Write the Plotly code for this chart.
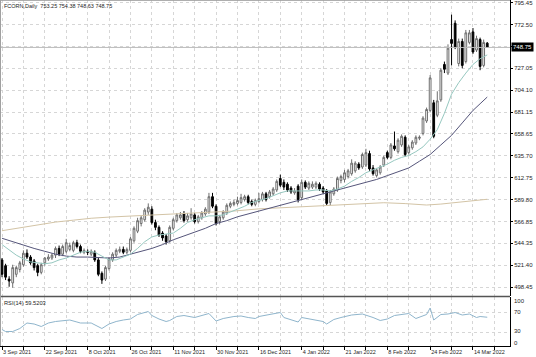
import plotly.graph_objects as go

# ---------------- data ----------------
bars = list(range(137))

open_ = [527, 521, 507, 503, 512, 517, 522, 534, 530, 526, 521, 514, 524, 528, 529, 532, 539, 533, 536, 538,
         537, 545, 541, 535, 536, 533, 535, 527, 513, 507, 518, 527, 532, 536, 538, 535, 537, 547, 557, 565,
         569, 577, 580, 566, 561, 555, 552, 547, 560, 568, 571, 575, 569, 571, 574, 567, 571, 575, 577, 593,
         583, 567, 571, 576, 583, 585, 586, 587, 590, 593, 588, 585, 588, 590, 596, 593, 596, 600, 612, 608,
         606, 602, 597, 604, 592, 608, 602, 603, 603, 606, 602, 599, 587, 596, 600, 610, 611, 614, 617, 620,
         627, 624, 626, 638, 623, 615, 618, 626, 639, 634, 646, 640, 647, 655, 639, 644, 649, 654, 659, 672,
         683, 691, 678, 694, 731, 722, 757, 774, 732, 755, 734, 754, 765, 746, 757, 730, 753.25]
high = [529, 523, 510, 522, 521, 526, 537, 538, 532, 528, 523, 524, 530, 533, 534, 541, 542, 543, 549, 545,
        547, 548, 543, 539, 538, 538, 537, 529, 515, 521, 530, 535, 539, 541, 541, 540, 551, 562, 571, 573,
        581, 586, 583, 569, 563, 557, 554, 563, 571, 576, 577, 578, 576, 581, 576, 574, 578, 582, 597, 597,
        585, 574, 579, 586, 588, 590, 593, 596, 595, 595, 590, 591, 597, 598, 598, 600, 603, 611, 616, 611,
        608, 604, 602, 606, 611, 610, 609, 609, 609, 608, 604, 601, 600, 603, 614, 616, 621, 622, 632, 630,
        629, 639, 643, 641, 626, 623, 626, 636, 641, 649, 661, 654, 658, 657, 647, 652, 657, 657, 677, 686,
        720, 694, 703, 727, 734, 752, 783, 777, 758, 758, 767, 767, 769, 761, 759, 757, 754.38]
low = [509, 506, 499, 498, 509, 514, 520, 528, 522, 516, 510, 512, 521, 526, 527, 529, 531, 531, 534, 536,
       535, 539, 534, 533, 532, 531, 525, 510, 502, 505, 516, 525, 530, 534, 533, 533, 535, 545, 555, 562,
       567, 574, 564, 558, 551, 547, 543, 545, 558, 566, 569, 566, 567, 569, 565, 565, 569, 573, 575, 581,
       563, 564, 569, 574, 581, 583, 584, 585, 588, 585, 583, 583, 586, 588, 588, 591, 594, 598, 603, 600,
       598, 596, 595, 587, 590, 601, 600, 601, 601, 599, 596, 584, 584, 594, 598, 607, 608, 612, 615, 618,
       621, 622, 624, 620, 615, 613, 616, 624, 632, 632, 641, 638, 645, 635, 637, 642, 647, 652, 657, 670,
       681, 654, 676, 692, 722, 720, 730, 747, 729, 727, 732, 752, 742, 744, 725, 728, 748.63]
close = [512, 509, 505, 519, 519, 524, 534, 530, 524, 519, 514, 522, 529, 530, 532, 539, 533, 541, 545, 542,
         545, 541, 536, 537, 535, 536, 527, 512, 506, 519, 528, 533, 537, 538, 535, 538, 549, 560, 568, 571,
         579, 582, 566, 561, 553, 550, 546, 561, 569, 574, 574, 568, 573, 575, 567, 572, 576, 580, 593, 583,
         565, 572, 577, 584, 586, 587, 589, 592, 593, 587, 585, 589, 591, 596, 590, 598, 601, 609, 605, 603,
         600, 598, 599, 590, 608, 603, 607, 606, 607, 601, 598, 586, 598, 601, 612, 614, 618, 620, 628, 628,
         623, 637, 639, 622, 617, 621, 624, 634, 634, 647, 643, 652, 656, 637, 645, 650, 655, 655, 675, 684,
         717, 656, 693, 725, 726, 748, 753, 749, 755, 730, 764, 764, 744, 758, 729, 754, 748.75]

date_labels = ["3 Sep 2021", "22 Sep 2021", "8 Oct 2021", "26 Oct 2021", "11 Nov 2021", "30 Nov 2021",
               "16 Dec 2021", "4 Jan 2022", "21 Jan 2022", "8 Feb 2022", "24 Feb 2022", "14 Mar 2022"]
date_label_bars = [0, 12, 24, 36, 48, 60, 72, 84, 96, 108, 120, 132]

price_ticks = [795.45, 772.50, 749.55, 727.05, 704.10, 681.15, 658.65, 635.70,
               612.75, 589.80, 566.85, 544.35, 521.40, 498.45]
price_tick_text = ["795.45", "772.50", "", "727.05", "704.10", "681.15", "658.65", "635.70",
                   "612.75", "589.80", "566.85", "544.35", "521.40", "498.45"]

fast_ma_bars = [0, 2, 4, 6, 8, 10, 12, 14, 16, 18, 20, 22, 24, 26, 28, 30, 32, 34, 36, 38, 40, 42, 44, 46, 48,
                50, 52, 54, 56, 58, 60, 62, 64, 66, 68, 70, 72, 74, 76, 78, 80, 82, 84, 86, 88, 90, 92, 94, 96,
                98, 100, 102, 104, 106, 108, 110, 112, 114, 116, 118, 120, 122, 124, 126, 128, 130, 132, 134, 136]
fast_ma = [543, 537, 532, 528, 525, 524, 523, 524, 527, 529, 532, 535, 536, 535, 531, 527, 527, 530, 533, 539,
           546, 551, 553, 554, 555, 560, 566, 569, 571, 573, 573, 574, 577, 580, 583, 587, 589, 591, 594, 597,
           599, 599, 599, 599, 600, 600, 599, 601, 604, 609, 613, 618, 621, 624, 627, 631, 634, 636, 640, 645,
           653, 663, 680, 700, 712, 722, 731, 737, 741]

mid_ma_bars = [0, 3, 6, 9, 12, 15, 18, 21, 24, 27, 30, 33, 36, 39, 42, 45, 48, 51, 54, 57, 60, 63, 66, 69, 72,
               75, 78, 81, 84, 87, 90, 93, 96, 99, 102, 105, 108, 111, 114, 117, 120, 123, 126, 129, 132, 134, 136]
mid_ma = [549.6, 546, 542, 539, 536, 533, 531, 530, 530, 529.5, 529, 530, 533, 536, 539, 543, 548, 552, 556,
          560, 565, 568, 572, 575, 578, 581, 584, 587, 590, 593, 596, 599, 602, 605, 608, 611, 615, 619, 623,
          630, 637, 647, 657, 670, 683, 690, 697]

slow_ma_bars = [0, 5, 10, 15, 20, 25, 30, 36, 45, 55, 65, 72, 80, 86, 95, 107, 113, 119, 123, 127, 131, 136]
slow_ma = [557.5, 560.5, 563.5, 566.5, 568.5, 570.5, 571.7, 572.8, 574.3, 575.6, 578, 580.3, 581.8, 582.6,
           584.5, 586.7, 585.8, 584.3, 585.3, 586.8, 588.5, 590.3]

rsi_bars = [0, 1, 3, 5, 7, 9, 11, 13, 15, 17, 19, 21, 22, 25, 28, 30, 32, 34, 36, 38, 41, 42, 44, 46, 47, 49,
            51, 54, 56, 58, 60, 62, 65, 67, 69, 71, 72, 75, 78, 79, 81, 83, 84, 86, 88, 90, 91, 93, 95, 98,
            101, 102, 104, 106, 108, 110, 112, 114, 116, 118, 119, 120, 121, 123, 125, 127, 129, 131, 133, 134, 136]
rsi = [35, 31, 31, 37, 48, 46, 41, 48, 51, 53, 54, 50, 48, 48, 37, 46, 51, 54, 56, 65, 71, 63, 56, 51, 53, 61,
       63, 59, 63, 67, 52, 57, 61, 62, 59, 57, 61, 65, 69, 59, 54, 50, 59, 56, 54, 51, 46, 55, 59, 64,
       66, 64, 59, 53, 56, 63, 65, 67, 57, 62, 65, 78, 54, 65, 66, 69, 64, 66, 59, 61, 59.52]

rsi_levels = [70, 30]
rsi_scale_labels = ["100", "70", "30", "0"]
rsi_scale_label_pos = [92.6, 70, 32, 7.4]

symbol = "FCORN,Daily"
last_ohlc = ["753.25", "754.38", "748.63", "748.75"]
last_price = 748.75
rsi_last = "59.5203"

# ---------------- figure ----------------
FONT = "Liberation Sans, Arial, sans-serif"
TXT = "#1e1e1e"
GRID = "#d6d6d6"
PLOT_H = 346.0

fig = go.Figure()

fig.add_trace(go.Candlestick(
    x=bars, open=open_, high=high, low=low, close=close,
    increasing=dict(line=dict(color="#6e6e6e", width=1), fillcolor="#ffffff"),
    decreasing=dict(line=dict(color="#000000", width=1), fillcolor="#000000"),
    whiskerwidth=0, showlegend=False, hoverinfo="skip", xaxis="x", yaxis="y"))

fig.add_trace(go.Scatter(x=slow_ma_bars, y=slow_ma, mode="lines",
                         line=dict(color="#d3c4a6", width=1), showlegend=False, hoverinfo="skip"))
fig.add_trace(go.Scatter(x=mid_ma_bars, y=mid_ma, mode="lines",
                         line=dict(color="#55557a", width=1), showlegend=False, hoverinfo="skip"))
fig.add_trace(go.Scatter(x=fast_ma_bars, y=fast_ma, mode="lines",
                         line=dict(color="#96c8c0", width=1), showlegend=False, hoverinfo="skip"))

fig.add_trace(go.Scatter(x=rsi_bars, y=rsi, mode="lines", xaxis="x", yaxis="y2",
                         line=dict(color="#8fb5cc", width=1), showlegend=False, hoverinfo="skip"))

grid_bars = list(range(0, 139, 6))
grid_text = []
for b in grid_bars:
    grid_text.append(date_labels[date_label_bars.index(b)] if b in date_label_bars else "")

main_bottom = (PLOT_H - 296) / PLOT_H
rsi_top = (PLOT_H - 297) / PLOT_H

fig.update_layout(
    width=536, height=357,
    margin=dict(l=0, r=26, t=0, b=11),
    paper_bgcolor="#ffffff", plot_bgcolor="#ffffff",
    font=dict(family=FONT, size=6, color=TXT),
    xaxis=dict(range=[-0.5605, 142.38], tickvals=grid_bars, ticktext=grid_text,
               ticklabelposition="outside right", tickfont=dict(size=5.5, color=TXT),
               showgrid=True, gridcolor=GRID, griddash="dot", gridwidth=1,
               showline=True, linecolor="#000000", linewidth=1,
               ticks="outside", ticklen=3, tickcolor="#000000",
               zeroline=False, anchor="y2", rangeslider=dict(visible=False), fixedrange=True),
    yaxis=dict(domain=[main_bottom, 1], range=[489.36, 798.27], side="right",
               tickvals=price_ticks, ticktext=price_tick_text, tickfont=dict(size=6, color=TXT),
               ticklabeloverflow="allow",
               showgrid=True, gridcolor=GRID, griddash="dot", gridwidth=1,
               showline=True, linecolor="#000000", linewidth=1,
               ticks="outside", ticklen=2, tickcolor="#000000", zeroline=False, anchor="x"),
    yaxis2=dict(domain=[0, rsi_top], range=[2, 100], side="right",
                tickvals=rsi_levels, showticklabels=False,
                showgrid=True, gridcolor=GRID, griddash="dot", gridwidth=1,
                showline=True, linecolor="#000000", linewidth=1,
                ticks="", zeroline=False, anchor="x"),
)

# price line
fig.add_shape(type="line", xref="paper", yref="y", x0=0, x1=1, y0=last_price, y1=last_price,
              line=dict(color="#bdbdbd", width=1))
# panel separator
fig.add_shape(type="line", xref="paper", yref="paper", x0=0, x1=1, y0=(PLOT_H - 296.5) / PLOT_H,
              y1=(PLOT_H - 296.5) / PLOT_H, line=dict(color="#555555", width=1.5))
# frame left / top
fig.add_shape(type="line", xref="paper", yref="paper", x0=0.001, x1=0.001, y0=0, y1=1,
              line=dict(color="#a0a0a0", width=1))
fig.add_shape(type="line", xref="paper", yref="paper", x0=0, x1=1, y0=0.999, y1=0.999,
              line=dict(color="#a0a0a0", width=1))

# last price box
fig.add_annotation(xref="paper", yref="y", x=1, y=last_price, xanchor="left", yanchor="middle",
                   text=f"{last_price:.2f}", showarrow=False, bgcolor="#000000",
                   font=dict(family=FONT, size=6, color="#ffffff"), borderpad=1, xshift=1)

# title
fig.add_annotation(xref="paper", yref="paper", x=0, y=1, xanchor="left", yanchor="top",
                   text=symbol + "\u00a0\u00a0" + " ".join(last_ohlc), showarrow=False,
                   font=dict(family=FONT, size=5.5, color=TXT), xshift=2, yshift=-1)

# RSI label
fig.add_annotation(xref="paper", yref="y2", x=0, y=100, xanchor="left", yanchor="top",
                   text="RSI(14) " + rsi_last, showarrow=False,
                   font=dict(family=FONT, size=5.7, color=TXT), xshift=2, yshift=-1)

for lab, pos in zip(rsi_scale_labels, rsi_scale_label_pos):
    fig.add_annotation(xref="paper", yref="y2", x=1, y=pos, xanchor="left", yanchor="middle",
                       text=lab, showarrow=False, font=dict(family=FONT, size=6, color=TXT), xshift=2)

fig.write_html("out.html",
               config={"displayModeBar": False, "staticPlot": True},
               post_script="document.body.style.margin='0px';document.body.style.overflow='hidden';")
